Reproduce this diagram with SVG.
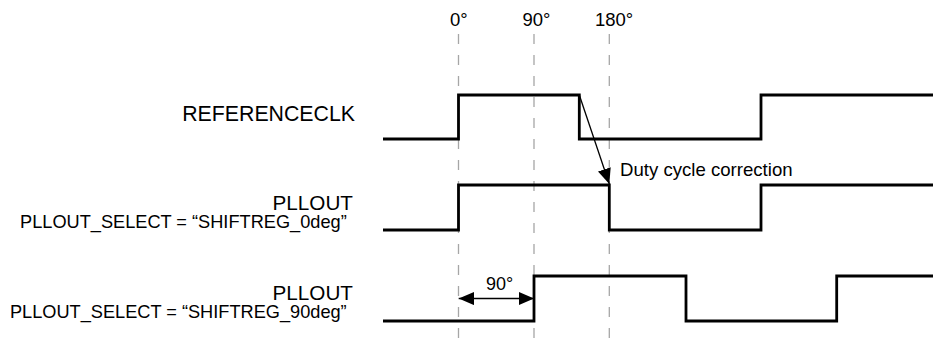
<svg xmlns="http://www.w3.org/2000/svg" width="933" height="348" viewBox="0 0 933 348">
<style>
  .t { font-family: "Liberation Sans", Arial, Helvetica, sans-serif; fill: #000; }
  .title { font-size: 20.7px; text-anchor: end; }
  .sel { font-size: 18.2px; text-anchor: end; }
  .deg { font-size: 18.5px; }
  .wave { fill: none; stroke: #000; stroke-width: 2.8; stroke-linejoin: miter; stroke-linecap: butt; }
  .grid { stroke: #a6a6a6; stroke-width: 1.3; stroke-dasharray: 10 11; fill: none; }
  .arrow { stroke: #000; stroke-width: 1.3; fill: none; }
</style>
<defs>
  <marker id="ah" markerUnits="userSpaceOnUse" markerWidth="16" markerHeight="14" refX="15.5" refY="6.7" orient="auto-start-reverse">
    <path d="M0,0 L15.5,6.7 L0,13.4 Z" fill="#000"/>
  </marker>
</defs>
<rect width="933" height="348" fill="#fff"/>
<g id="grid">
  <line class="grid" x1="458.5" y1="34" x2="458.5" y2="348"/>
  <line class="grid" x1="534" y1="34" x2="534" y2="348"/>
  <line class="grid" x1="609.3" y1="34" x2="609.3" y2="348"/>
  <text class="t deg" x="450" y="26">0°</text>
  <text class="t deg" x="522.5" y="26">90°</text>
  <text class="t deg" x="595" y="26">180°</text>
</g>
<g id="referenceclk">
  <text class="t title" x="355" y="121" style="font-size:21.3px">REFERENCECLK</text>
  <path class="wave" d="M383,139 H458.5 V95 H579.3 V139 H761 V95 H933"/>
</g>
<g id="pllout-0deg">
  <text class="t title" x="353" y="210">PLLOUT</text>
  <text class="t sel" x="346.7" y="228.3">PLLOUT_SELECT = “SHIFTREG_0deg”</text>
  <path class="wave" d="M383,230 H458.5 V185 H609.3 V230 H761 V185 H933"/>
</g>
<g id="pllout-90deg">
  <text class="t title" x="353" y="300">PLLOUT</text>
  <text class="t sel" x="346.7" y="318.3">PLLOUT_SELECT = “SHIFTREG_90deg”</text>
  <path class="wave" d="M383,321 H534 V276 H686 V321 H836.7 V276 H933"/>
</g>
<g id="connectors">
  <line class="arrow" x1="579.3" y1="95" x2="609.3" y2="184" marker-end="url(#ah)"/>
  <text class="t deg" x="620" y="175.7" style="font-size:18.6px">Duty cycle correction</text>
  <line class="arrow" x1="458.7" y1="298.5" x2="534" y2="298.5" marker-start="url(#ah)" marker-end="url(#ah)"/>
  <text class="t deg" x="486" y="290" style="font-size:18px">90°</text>
</g>
</svg>
